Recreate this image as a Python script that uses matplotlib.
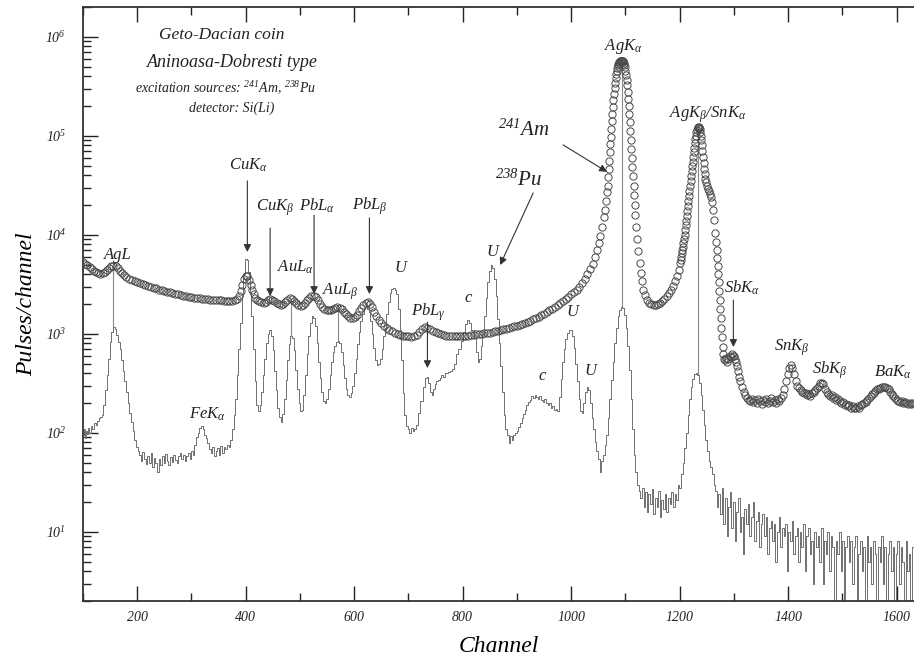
import numpy as np
import matplotlib
matplotlib.use('Agg')
import matplotlib.pyplot as plt
from matplotlib.ticker import MultipleLocator, FixedLocator, NullFormatter, LogFormatterMathtext

# 238Pu 激发谱（细线）
pu_channel = [
    100, 102, 104, 106, 108, 110, 113, 116, 119, 122, 125, 128, 131, 133,
    136, 139, 142, 145, 148, 151, 154, 157, 160, 163, 166, 169, 172, 175, 178, 181, 184, 187, 190, 193, 196, 199, 202,
    205, 208, 211, 214, 217, 220, 223, 226, 229, 232, 235, 238, 241, 244, 247, 250, 253, 256, 259, 262, 265, 268, 271, 274, 277, 280, 283, 286, 289, 292, 295, 298, 301, 304,
    307, 310, 313, 316, 319, 322, 325, 328, 331, 334, 337, 340, 343, 346, 349, 352, 355, 358, 361, 364, 367, 370, 373, 376, 379,
    382, 385, 388, 391, 394, 397, 400, 403, 406, 409, 412, 415, 418, 421, 424, 427, 430, 433, 436, 439, 442, 445, 448, 451, 454, 457, 460, 463, 466, 469,
    472, 475, 478, 481, 484, 487, 490, 493, 496, 499, 502, 505, 508, 511, 514, 517, 520, 523, 526, 529, 532, 535, 538, 541, 544, 547,
    550, 553, 556, 559, 562, 565, 568, 571, 574, 577, 580, 583, 586, 589, 592, 595, 598, 601, 604, 607, 610, 613, 616, 619, 622, 625,
    628, 631, 634, 637, 640, 643, 646, 649, 652, 655, 658, 661, 664, 667, 670, 673, 676, 679, 682, 685, 688, 691, 694, 697, 700, 703,
    706, 709, 712, 716, 720, 724, 728, 732, 735, 738, 741, 744, 747, 750, 753, 756, 759, 762, 766, 770, 774, 778, 782, 786, 790, 794, 798, 802,
    806, 810, 814, 818, 822, 826, 829, 832, 835, 838, 841, 844, 847, 850, 853, 856, 859, 862, 865, 868, 871, 874, 877, 880, 883, 886, 889, 892, 895, 898,
    901, 904, 907, 910, 913, 916, 919, 922, 925, 928, 931, 934, 937, 940, 943, 946, 949, 952, 955, 958, 961, 964, 967, 970, 973, 976,
    979, 982, 985, 988, 991, 994, 997, 1000, 1003, 1006, 1009, 1012, 1015, 1018, 1021, 1024, 1027, 1030, 1033, 1036, 1039, 1042, 1045, 1048, 1051, 1054,
    1057, 1060, 1063, 1066, 1069, 1072, 1075, 1078, 1081, 1084, 1087, 1090, 1093, 1096, 1099, 1102, 1105, 1108, 1111, 1114, 1117, 1120, 1123, 1126,
    1129, 1132, 1135, 1138, 1141, 1144, 1147, 1150, 1153, 1156, 1159, 1162, 1165, 1168, 1171, 1174, 1177, 1180, 1183, 1186, 1189, 1192, 1195, 1198,
    1201, 1204, 1207, 1210, 1213, 1216, 1219, 1222, 1225, 1228, 1231, 1234, 1237, 1240, 1243, 1246, 1249, 1252, 1255, 1258, 1261, 1264, 1267, 1270, 1273, 1276,
    1279, 1282, 1285, 1288, 1291, 1294, 1297, 1300, 1303, 1306, 1309, 1312, 1315, 1318, 1321, 1324, 1327, 1330, 1333, 1336, 1339, 1342, 1345, 1348, 1351, 1354,
    1357, 1360, 1363, 1366, 1369, 1372, 1375, 1378, 1381, 1384, 1387, 1390, 1393, 1396, 1399, 1402, 1405, 1408, 1411, 1414, 1417, 1420, 1423, 1426, 1429, 1432,
    1435, 1438, 1441, 1444, 1447, 1450, 1453, 1456, 1459, 1462, 1465, 1468, 1471, 1474, 1477, 1480, 1483, 1486, 1489, 1492, 1495, 1498, 1501, 1504, 1507, 1510,
    1513, 1516, 1519, 1522, 1525, 1528, 1531, 1534, 1537, 1540, 1543, 1546, 1549, 1552, 1555, 1558, 1561, 1564, 1567, 1570, 1573, 1576, 1579, 1582, 1585, 1588,
    1591, 1594, 1597, 1600, 1603, 1606, 1609, 1612, 1615, 1618, 1621, 1624, 1627, 1630, 1633,
]
pu_counts = [
    95, 110, 88, 105, 97, 112, 100, 118, 108, 125, 120, 132, 140, 145,
    150, 190, 270, 380, 560, 820, 1050, 1170, 1120, 980, 830, 700, 540, 420, 330, 260, 200, 160, 130, 105, 85, 72, 66,
    60, 52, 64, 55, 48, 58, 50, 62, 45, 56, 49, 40, 55, 47, 58, 50, 61, 52, 47, 57, 51, 60, 53, 49, 58, 62, 54, 60, 52, 58, 63, 55, 66, 60,
    75, 90, 100, 112, 118, 108, 95, 88, 78, 68, 62, 72, 58, 66, 70, 60, 74, 63, 72, 68, 76, 72, 85, 110, 150,
    220, 380, 700, 1300, 2400, 4000, 5700, 5600, 4200, 2600, 1500, 700, 330, 190, 165, 190, 260, 380, 560, 800, 1000, 1080, 950, 680, 420, 270, 180, 145, 130, 155,
    220, 340, 540, 780, 960, 900, 680, 430, 280, 200, 165, 170, 240, 380, 620, 950, 1300, 1500, 1450, 1200, 800, 520, 360, 260, 210, 200,
    220, 280, 380, 520, 650, 760, 830, 850, 800, 650, 480, 360, 280, 240, 230, 250, 300, 400, 560, 780, 1050, 1350, 1600, 1780, 1850, 1800,
    1650, 1350, 1000, 720, 550, 480, 500, 560, 700, 950, 1150, 1600, 2100, 2600, 2850, 2900, 2800, 2500, 1800, 1100, 550, 250, 150, 118, 108, 100,
    112, 104, 108, 120, 160, 210, 290, 360, 370, 320, 260, 240, 280, 310, 330, 340, 360, 380, 370, 400, 410, 420, 440, 500, 620, 700, 850, 1050,
    1250, 1380, 1300, 1100, 900, 650, 520, 560, 750, 1000, 1500, 2300, 3300, 4300, 4900, 4600, 3600, 2400, 1400, 800, 470, 260, 150, 110, 95, 78, 92, 85, 96, 100,
    105, 115, 125, 140, 155, 170, 190, 205, 215, 235, 225, 240, 230, 220, 235, 215, 205, 220, 200, 190, 200, 180, 185, 170, 175, 165,
    230, 350, 520, 700, 880, 1020, 1100, 1080, 950, 720, 500, 330, 220, 165, 160, 200, 260, 290, 270, 200, 140, 110, 80, 65, 55, 40,
    52, 60, 75, 95, 140, 220, 340, 520, 800, 1150, 1500, 1750, 1870, 1820, 1550, 1150, 750, 430, 220, 110, 60, 40, 30, 26,
    22, 28, 18, 25, 16, 24, 19, 27, 15, 22, 18, 26, 14, 21, 17, 24, 16, 22, 19, 25, 18, 24, 21, 30,
    28, 38, 50, 70, 100, 150, 220, 290, 350, 390, 400, 380, 320, 240, 170, 120, 85, 65, 52, 45, 38, 30, 26, 18, 24, 15,
    28, 12, 22, 9, 18, 25, 11, 20, 8, 16, 22, 10, 14, 6, 17, 12, 19, 9, 14, 20, 8, 13, 16, 7, 12, 15,
    9, 14, 6, 11, 13, 8, 12, 5, 10, 14, 7, 11, 9, 12, 4, 10, 8, 13, 6, 9, 11, 5, 10, 7, 12, 4,
    9, 11, 6, 8, 3, 10, 7, 9, 5, 11, 3, 8, 6, 10, 4, 9, 7, 2, 8, 6, 10, 4, 8, 2, 7, 9,
    5, 8, 3, 7, 9, 2, 6, 8, 4, 7, 2, 9, 5, 7, 3, 8, 6, 2, 7, 5, 9, 3, 7, 2, 6, 8,
    4, 7, 2, 6, 8, 3, 7, 5, 2, 8, 4, 6, 2, 7, 5,
]

# 241Am 激发谱（空心圆）
am_channel = [
    100, 104, 108, 112, 116, 120, 124, 128, 132, 136, 140, 144, 148, 152, 156, 160, 164, 168, 172, 176, 180,
    185, 190, 195, 200, 205, 210, 215, 220, 225, 230, 235, 240, 245, 250, 255, 260, 265, 270, 275, 280, 285, 290, 295, 300,
    305, 310, 315, 320, 325, 330, 335, 340, 345, 350, 355, 360, 365, 370, 375, 380,
    384, 388, 391, 394, 397, 400, 403, 406, 409, 412, 415, 418, 421, 425, 429, 433, 437,
    441, 445, 449, 453, 457, 461, 465, 469, 473, 477, 481, 485, 489, 493, 497, 501, 505,
    509, 513, 517, 521, 525, 529, 533, 537, 541, 545, 549, 553, 557, 561, 565, 569, 573,
    577, 581, 585, 589, 593, 597, 601, 605, 609, 613, 617, 621, 625, 629, 633, 637, 641,
    645, 650, 655, 660, 665, 670, 675, 680, 685, 690, 695, 700, 705, 710, 715, 720, 725, 730,
    735, 740, 745, 750, 755, 760, 765, 770, 775, 780, 785, 790, 795, 800, 805, 810, 815, 820,
    825, 830, 835, 840, 845, 850, 855, 860, 865, 870, 875, 880, 885, 890, 895, 900, 905, 910,
    915, 920, 925, 930, 935, 940, 945, 950, 955, 960, 965, 970, 975, 980, 985, 990, 995, 1000,
    1005, 1010, 1015, 1020, 1025, 1030, 1035, 1040, 1044, 1048, 1051, 1054, 1057, 1060, 1062, 1064, 1066,
    1067, 1068, 1069, 1070, 1071, 1072, 1073, 1074, 1075, 1076, 1077, 1078, 1079, 1080, 1081, 1082, 1083, 1084, 1085, 1086, 1087, 1088, 1089, 1090, 1091, 1092,
    1093, 1094, 1095, 1096, 1097, 1098, 1099, 1100, 1101, 1102, 1103, 1104, 1105, 1106, 1107, 1108, 1109, 1110, 1111, 1112, 1113, 1114, 1115, 1116, 1117, 1118,
    1120, 1122, 1124, 1126, 1128, 1130, 1133, 1136, 1140, 1144, 1148, 1152, 1156, 1160, 1164, 1168, 1172, 1176, 1180, 1184, 1188, 1192, 1195, 1198,
    1201, 1202, 1203, 1204, 1205, 1206, 1207, 1208, 1209, 1210, 1211, 1212, 1213, 1214, 1215, 1216, 1217, 1218, 1219, 1220, 1221, 1222, 1223, 1224, 1225, 1226, 1227, 1228, 1229, 1230, 1231,
    1232, 1233, 1234, 1235, 1236, 1237, 1238, 1239, 1240, 1241, 1242, 1243, 1244, 1245, 1246, 1247, 1248,
    1250, 1252, 1254, 1256, 1258, 1260, 1262, 1264, 1266, 1267, 1268, 1269, 1270, 1271, 1272, 1273, 1274, 1275, 1276, 1277, 1278, 1279, 1280,
    1282, 1284, 1286, 1288, 1290, 1292, 1294, 1296, 1298, 1300, 1302, 1304, 1306, 1308, 1310, 1312, 1315, 1318, 1321, 1324, 1327, 1330,
    1333, 1336, 1339, 1342, 1345, 1348, 1351, 1354, 1357, 1360, 1363, 1366, 1369, 1372, 1375, 1378, 1381, 1384, 1387, 1390, 1393, 1396, 1399, 1402, 1405, 1408,
    1411, 1414, 1417, 1420, 1423, 1426, 1429, 1432, 1435, 1438, 1441, 1444, 1447, 1450, 1453, 1456, 1459, 1462, 1465, 1468, 1471, 1474, 1477, 1480, 1483, 1486,
    1489, 1492, 1495, 1498, 1501, 1504, 1507, 1510, 1513, 1516, 1519, 1522, 1525, 1528, 1531, 1534, 1537, 1540, 1543, 1546, 1549, 1552, 1555, 1558, 1561, 1564,
    1567, 1570, 1573, 1576, 1579, 1582, 1585, 1588, 1591, 1594, 1597, 1600, 1603, 1606, 1609, 1612, 1615, 1618, 1621, 1624, 1627, 1630, 1633,
]
am_counts = [
    5300, 5100, 4900, 4700, 4500, 4350, 4200, 4100, 4050, 4100, 4250, 4450, 4650, 4800, 4850, 4800, 4600, 4350, 4100, 3900, 3750,
    3600, 3500, 3400, 3330, 3250, 3200, 3120, 3050, 2980, 2920, 2870, 2800, 2750, 2700, 2650, 2620, 2570, 2530, 2500, 2460, 2430, 2400, 2380, 2350,
    2320, 2300, 2280, 2260, 2250, 2230, 2220, 2200, 2190, 2180, 2170, 2160, 2150, 2150, 2160, 2180,
    2250, 2400, 2700, 3100, 3550, 3850, 3800, 3500, 3100, 2750, 2500, 2300, 2200, 2130, 2080, 2070, 2100,
    2180, 2240, 2200, 2120, 2030, 1980, 1960, 2000, 2100, 2220, 2300, 2260, 2150, 2030, 1950, 1920, 1960,
    2050, 2180, 2300, 2400, 2430, 2350, 2180, 2000, 1880, 1790, 1740, 1720, 1740, 1790, 1830, 1850, 1830,
    1760, 1660, 1570, 1500, 1460, 1450, 1480, 1560, 1680, 1820, 1960, 2050, 2080, 2020, 1850, 1660, 1500,
    1380, 1280, 1200, 1150, 1100, 1060, 1030, 1000, 980, 960, 950, 940, 930, 940, 980, 1050, 1120, 1160,
    1150, 1110, 1070, 1040, 1010, 990, 970, 960, 950, 945, 940, 940, 945, 950, 955, 960, 970, 975,
    985, 990, 1000, 1010, 1020, 1030, 1045, 1060, 1075, 1090, 1110, 1130, 1150, 1170, 1190, 1210, 1240, 1270,
    1300, 1330, 1360, 1400, 1440, 1490, 1540, 1590, 1650, 1720, 1800, 1880, 1970, 2050, 2130, 2250, 2350, 2500,
    2650, 2800, 3000, 3250, 3600, 4000, 4500, 5100, 5900, 7000, 8200, 9700, 12000, 15000, 18000, 22000, 27000,
    31000, 38000, 46000, 56000, 68000, 82000, 98000, 118000, 140000, 165000, 195000, 228000, 265000, 305000, 345000, 385000, 420000, 455000, 485000, 510000, 530000, 548000, 560000, 568000, 572000, 575000,
    575000, 572000, 566000, 556000, 540000, 518000, 490000, 455000, 415000, 370000, 325000, 280000, 238000, 200000, 166000, 137000, 112000, 91000, 74000, 60000, 48000, 39000, 31000, 25000, 20000, 16000,
    12000, 9000, 6800, 5200, 4100, 3400, 2800, 2450, 2200, 2050, 1980, 1950, 1960, 2000, 2060, 2150, 2260, 2400, 2560, 2780, 3050, 3400, 3800, 4400,
    5200, 5600, 6000, 6500, 7000, 7600, 8300, 9100, 10000, 11200, 12500, 13900, 15500, 17400, 19500, 21900, 24500, 27600, 31000, 34800, 39000, 43800, 49000, 54800, 61000, 68300, 76000, 84000, 92000, 100000, 108000,
    115000, 120000, 123000, 123000, 121000, 116000, 109000, 100000, 90000, 80000, 70000, 61000, 53000, 46000, 41000, 37000, 34000,
    31000, 29000, 27500, 26000, 24000, 21500, 18000, 14000, 10500, 8500, 7000, 5800, 4800, 4000, 3300, 2700, 2200, 1800, 1450, 1150, 920, 740, 620,
    560, 540, 570, 520, 560, 600, 580, 620, 600, 590, 560, 520, 470, 420, 370, 330, 290, 260, 240, 225, 215, 210,
    220, 205, 215, 200, 220, 210, 195, 215, 205, 220, 200, 210, 225, 205, 215, 200, 220, 210, 225, 240, 280, 330, 390, 450, 480, 450,
    390, 330, 300, 285, 270, 260, 250, 255, 240, 245, 235, 250, 260, 270, 285, 300, 315, 320, 310, 280, 260, 245, 235, 240, 225, 230,
    215, 220, 210, 200, 205, 190, 195, 185, 190, 180, 185, 180, 178, 185, 180, 190, 195, 200, 205, 215, 225, 235, 245, 255, 265, 275,
    280, 285, 290, 292, 290, 285, 275, 260, 245, 235, 225, 215, 210, 205, 210, 200, 205, 200, 195, 200, 195, 198, 195,
]

# 两谱峰之间的竖直连线所在道址
link_channels = [156, 484, 571, 1093, 1234]
# 纵轴主刻度
y_decades = [1e1, 1e2, 1e3, 1e4, 1e5, 1e6]
y_minor = [m * d for d in [1, 10, 100, 1e3, 1e4, 1e5, 1e6] for m in range(2, 10)]

plt.rcParams['font.family'] = 'serif'
plt.rcParams['font.serif'] = ['Liberation Serif', 'DejaVu Serif']
plt.rcParams['font.style'] = 'italic'
plt.rcParams['mathtext.fontset'] = 'custom'
plt.rcParams['mathtext.rm'] = 'Liberation Serif:italic'
plt.rcParams['mathtext.it'] = 'Liberation Serif:italic'

fig = plt.figure(figsize=(9.14, 6.66), dpi=100)
ax = fig.add_axes([0.0908, 0.0976, 0.9092, 0.8919])

ax.plot(pu_channel, pu_counts, color='#707070', lw=0.7, drawstyle='steps-mid', zorder=2)
ax.plot(am_channel, am_counts, ls='none', marker='o', ms=5.2, mfc='none',
        mec='#4a4a4a', mew=0.7, zorder=3)

# 竖直连线：上谱峰 -> 下谱峰
for ch in link_channels:
    top = np.interp(ch, am_channel, am_counts)
    bottom = np.interp(ch, pu_channel, pu_counts)
    ax.plot([ch, ch], [top, bottom], color='#8a8a8a', lw=0.8, zorder=1)

ax.set_yscale('log')
ax.set_xlim(100, 1632)
ax.set_ylim(2, 2e6)
ax.xaxis.set_major_locator(MultipleLocator(200))
ax.xaxis.set_minor_locator(MultipleLocator(100))
ax.yaxis.set_major_locator(FixedLocator(y_decades))
ax.yaxis.set_minor_locator(FixedLocator([v for v in y_minor if 2 <= v <= 2e6]))
ax.yaxis.set_minor_formatter(NullFormatter())
ax.yaxis.set_major_formatter(LogFormatterMathtext())
ax.tick_params(which='both', direction='in', top=True, right=False, width=1, colors='#222')
ax.tick_params(which='major', length=11, labelsize=10)
ax.tick_params(axis='x', which='major', pad=7)
ax.tick_params(axis='y', which='major', pad=12)
ax.tick_params(which='minor', length=6)
ax.spines['right'].set_visible(False)
for s in ['left', 'bottom', 'top']:
    ax.spines[s].set_linewidth(1.3)
    ax.spines[s].set_color('#333')

ax.set_xlabel('Channel', fontsize=17, labelpad=9)
ax.set_ylabel('Pulses/channel', fontsize=17, labelpad=6)

# 标题文字
tx = dict(transform=ax.transAxes, ha='center', va='center', color='#222')
ax.text(0.167, 0.953, 'Geto-Dacian coin', fontsize=12.5, **tx)
ax.text(0.180, 0.906, 'Aninoasa-Dobresti type', fontsize=13, **tx)
ax.text(0.172, 0.864, r'excitation sources: $^{241}$Am, $^{238}$Pu', fontsize=10, **tx)
ax.text(0.179, 0.830, 'detector: Si(Li)', fontsize=10, **tx)

# 峰标注
lab = dict(ha='center', va='center', fontsize=12, color='#222', zorder=5)
ax.text(165, 6250, 'AgL', **lab)
ax.text(405, 50800, r'CuK$_{\alpha}$', **lab)
ax.text(454, 18700, r'CuK$_{\beta}$', **lab)
ax.text(532, 19500, r'PbL$_{\alpha}$', **lab)
ax.text(491, 4720, r'AuL$_{\alpha}$', **lab)
ax.text(574, 2640, r'AuL$_{\beta}$', **lab)
ax.text(629, 19500, r'PbL$_{\beta}$', **lab)
ax.text(685, 4610, 'U', **lab)
ax.text(736, 1660, r'PbL$_{\gamma}$', **lab)
ax.text(810, 2300, 'c', **lab)
ax.text(854, 6700, 'U', **lab)
ax.text(1002, 1660, 'U', **lab)
ax.text(947, 373, 'c', **lab)
ax.text(1035, 420, 'U', **lab)
ax.text(329, 154, r'FeK$_{\alpha}$', **lab)
ax.text(1096, 793000, r'AgK$_{\alpha}$', **lab)
ax.text(1251, 163000, r'AgK$_{\beta}$/SnK$_{\alpha}$', **lab)
ax.text(1315, 2900, r'SbK$_{\alpha}$', **lab)
ax.text(1407, 716, r'SnK$_{\beta}$', **lab)
ax.text(1477, 430, r'SbK$_{\beta}$', **lab)
ax.text(1594, 410, r'BaK$_{\alpha}$', **lab)
ax.text(912, 115000, r'$^{241}$Am', ha='center', va='center', fontsize=15, color='#222')
ax.text(902, 35800, r'$^{238}$Pu', ha='center', va='center', fontsize=15, color='#222')

# 箭头
arr = dict(arrowstyle='-|>', color='#333', lw=0.8, mutation_scale=11, shrinkA=0, shrinkB=0)
arrows = [
    ((403, 6700), (403, 35000)),
    ((445, 2400), (445, 11700)),
    ((526, 2520), (526, 15800)),
    ((628, 2520), (628, 14800)),
    ((735, 450), (735, 1310)),
    ((1299, 735), (1299, 2190)),
    ((1066, 43200), (985, 81000)),
    ((869, 4950), (930, 26500)),
]
for tip, start in arrows:
    ax.annotate('', xy=tip, xytext=start, arrowprops=arr, zorder=4)

fig.savefig('out.png', dpi=100)
